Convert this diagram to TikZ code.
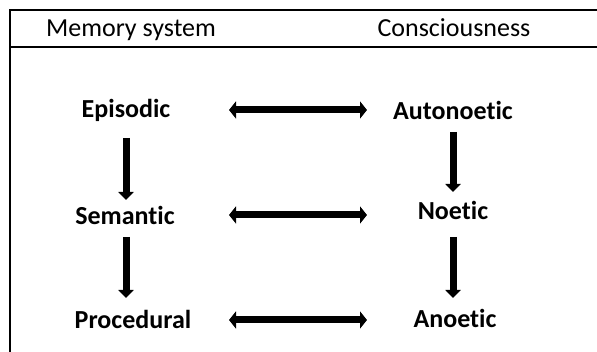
\documentclass[tikz,border=0pt]{standalone}
\usepackage{fontspec}
\setmainfont{Carlito}[Ligatures={NoCommon,NoRare,NoContextual}]
\usetikzlibrary{arrows.meta,calc}
\begin{document}
\begin{tikzpicture}[x=1pt,y=-1pt,
  hdr/.style={font=\fontsize{26}{30}\selectfont, inner sep=0pt, anchor=base},
  lbl/.style={font=\fontsize{26}{30}\selectfont\bfseries, inner sep=0pt, anchor=base},
  frameline/.style={line width=2.8pt},
  harrow/.style={line width=7pt, {Triangle[width=17pt,length=7pt]}-{Triangle[width=17pt,length=7pt]}},
  varrow/.style={line width=7pt, -{Triangle[width=15pt,length=8pt]}}]
\useasboundingbox (0,0) rectangle (597,352);
\coordinate (ftr) at (597,10);
\coordinate (ftl) at (10,10);
\coordinate (fbl) at (10,352);
\coordinate (sl) at (10,47);
\coordinate (sr) at (597,47);
\draw[frameline] (ftr) -- (ftl) -- (fbl);
\draw[frameline] (sl) -- (sr);
% headers
\node[hdr] (hm) at (131,37) {Memory system};
\node[hdr] (hc) at (454,37) {Consciousness};
% labels
\node[lbl] (ep)  at (126,118) {Episodic};
\node[lbl] (sem) at (125,225) {Semantic};
\node[lbl] (pr)  at (133,329) {Procedural};
\node[lbl] (au)  at (453,120) {Autonoetic};
\node[lbl] (no)  at (453,220) {Noetic};
\node[lbl] (an)  at (455,328) {Anoetic};
% vertical arrows
\draw[varrow] ($(ep.base)+(0,20)$) -- ($(ep.base |- sem.base)+(0,-25)$);
\draw[varrow] ($(ep.base |- sem.base)+(0,12)$) -- ($(ep.base |- pr.base)+(0,-31)$);
\draw[varrow] ($(au.base)+(0,12)$) -- ($(au.base |- no.base)+(0,-28)$);
\draw[varrow] ($(au.base |- no.base)+(0,17)$) -- ($(au.base |- an.base)+(0,-30)$);
% horizontal arrows
\draw[harrow] ($(ep.base)+(103,-8)$) -- ($(au.base)+(-86,-10)$);
\draw[harrow] ($(sem.base)+(104,-10)$) -- ($(no.base)+(-86,-5)$);
\draw[harrow] ($(pr.base)+(96,-9)$) -- ($(an.base)+(-88,-8)$);
\end{tikzpicture}
\end{document}
